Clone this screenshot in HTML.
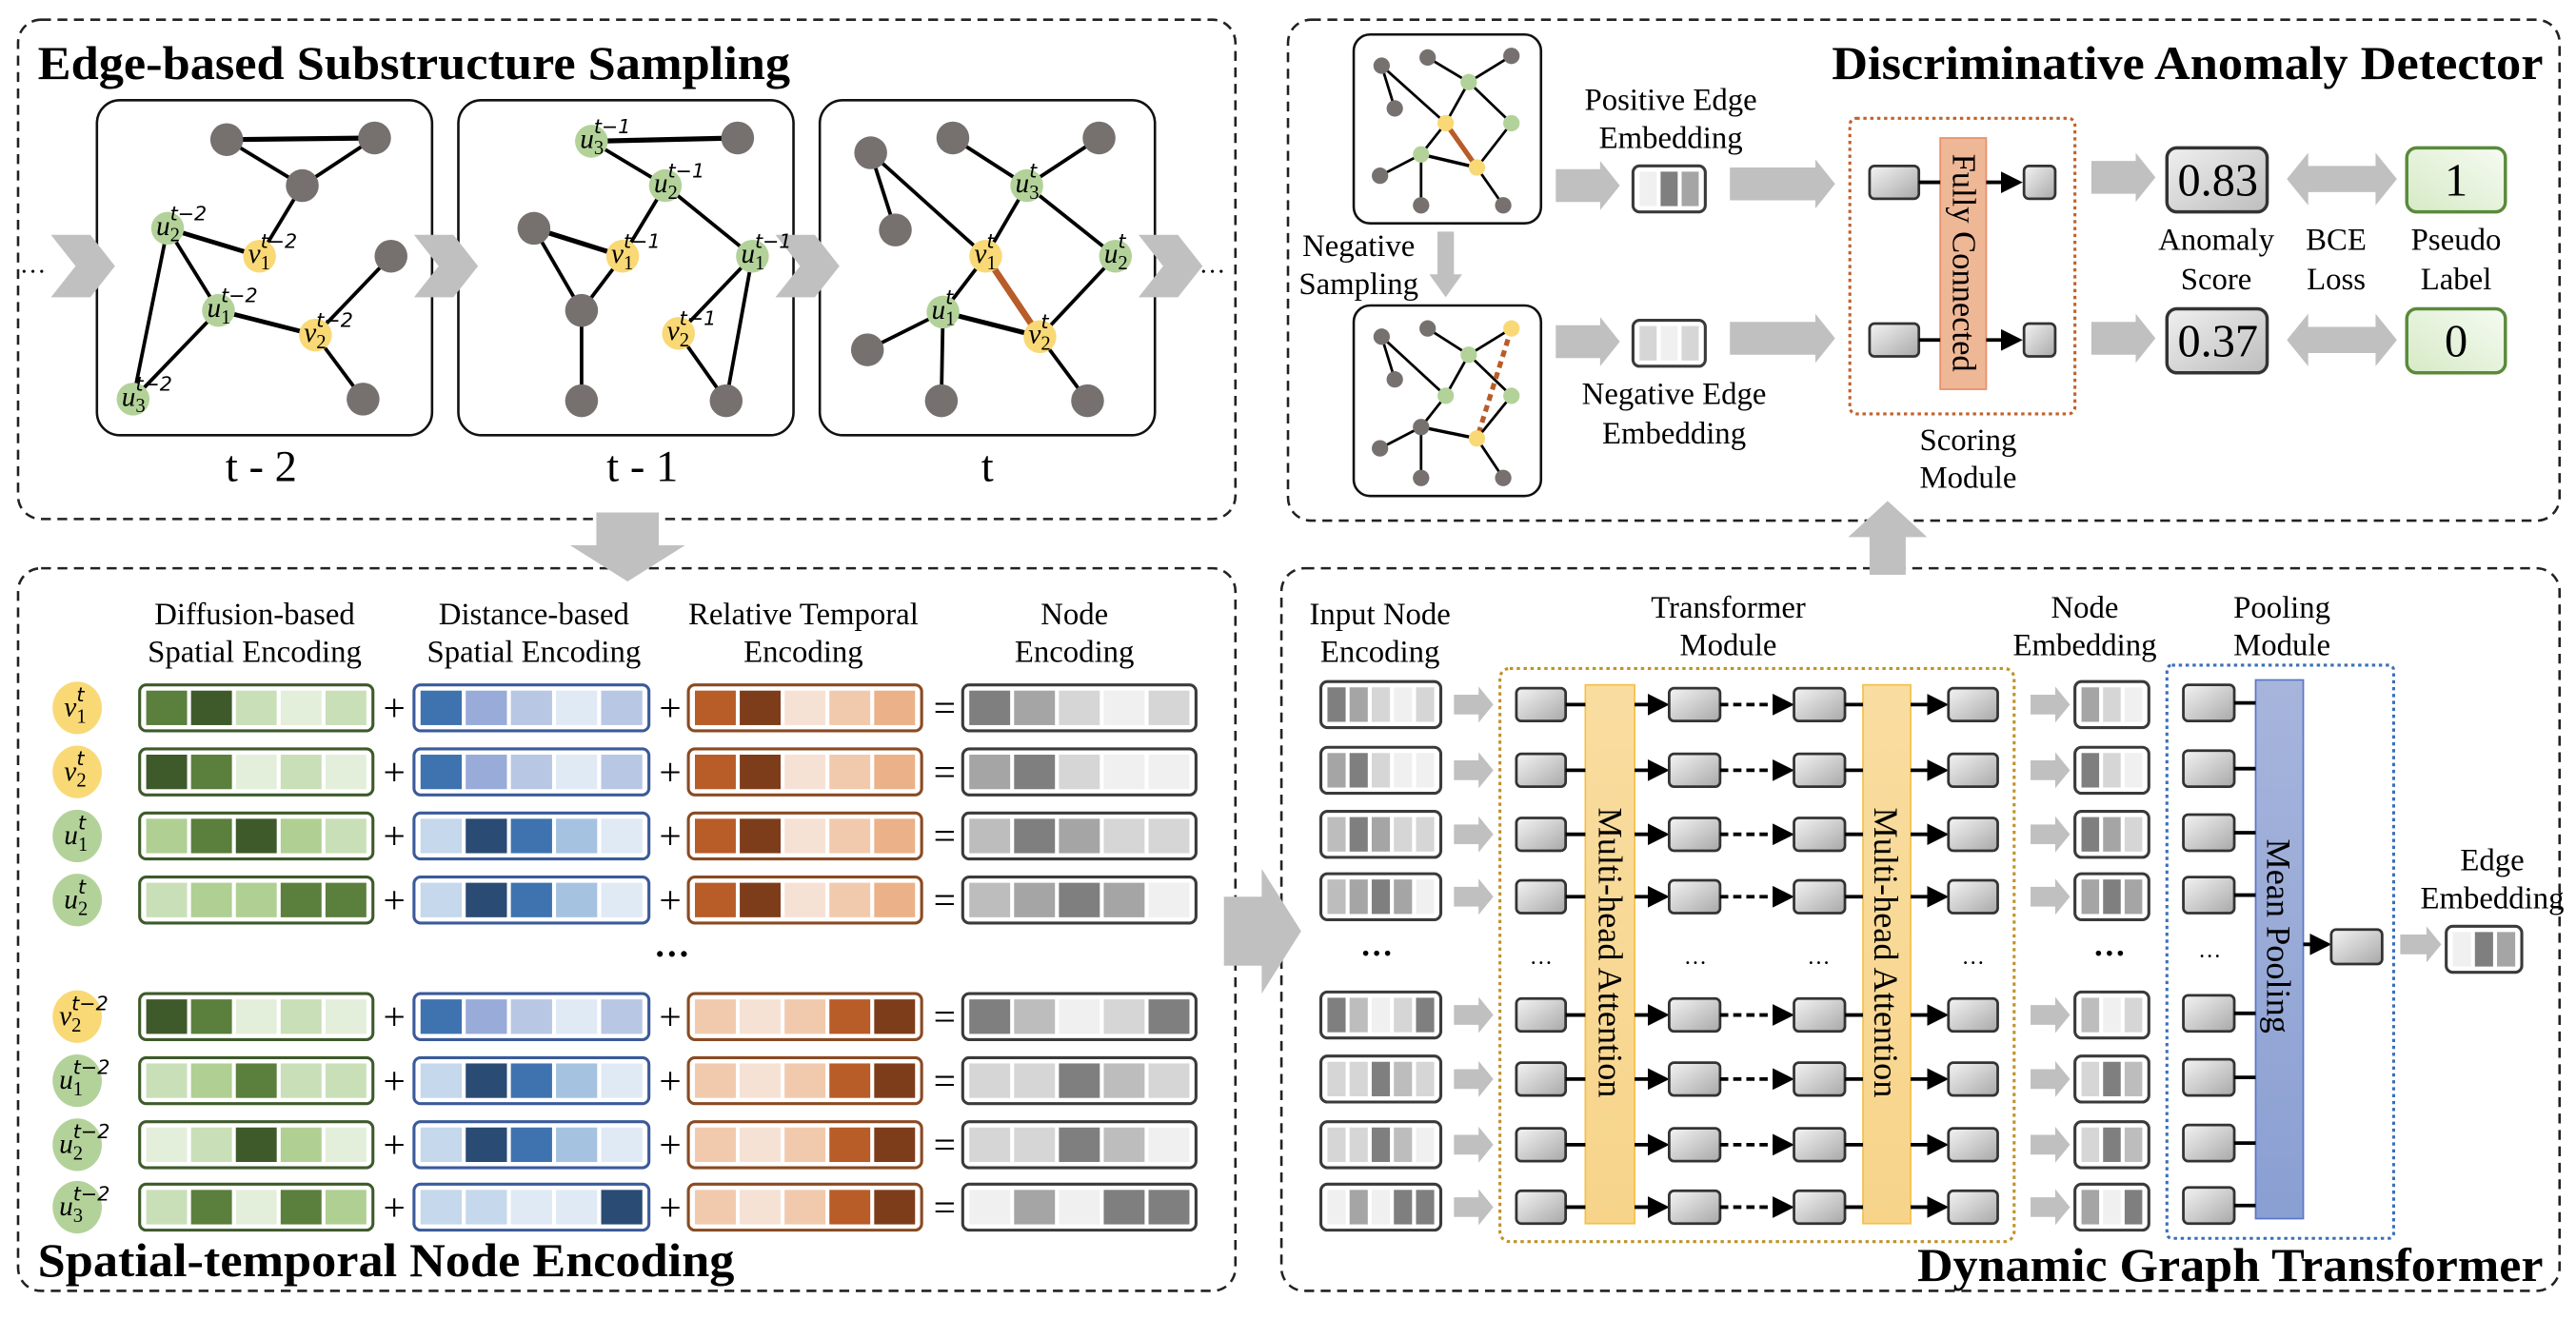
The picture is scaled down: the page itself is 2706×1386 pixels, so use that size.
<!DOCTYPE html>
<html><head><meta charset="utf-8">
<style>
html,body{margin:0;padding:0;background:#fff;}
svg{display:block;}
text{font-family:"Liberation Serif","DejaVu Serif",serif;fill:#000;}
.h{font-size:19px;text-anchor:middle;}
.t{font-size:29px;font-weight:bold;}
.m{font-size:17px;font-style:italic;}
.ms{font-size:12px;font-style:normal;}
.mp{font-size:12px;font-family:"DejaVu Sans","Liberation Sans",sans-serif;}
</style></head>
<body>
<svg id="s" width="2706" height="1386" viewBox="0 0 1568 803.1" xmlns="http://www.w3.org/2000/svg">
<defs>
<linearGradient id="gb" x1="0" y1="0" x2="1" y2="1"><stop offset="0" stop-color="#f4f4f4"/><stop offset="1" stop-color="#a8a8a8"/></linearGradient>
<linearGradient id="gs" x1="0" y1="0" x2="1" y2="1"><stop offset="0" stop-color="#f0f0f0"/><stop offset="1" stop-color="#bdbdbd"/></linearGradient>
<linearGradient id="gg" x1="0" y1="1" x2="1" y2="0"><stop offset="0" stop-color="#d6eac6"/><stop offset="1" stop-color="#f6fbf2"/></linearGradient>
<linearGradient id="ga" x1="0" y1="0" x2="0" y2="1"><stop offset="0" stop-color="#f9dda0"/><stop offset="1" stop-color="#f7d48a"/></linearGradient>
<linearGradient id="gp" x1="0" y1="0" x2="0" y2="1"><stop offset="0" stop-color="#a7b5dc"/><stop offset="1" stop-color="#8a9fd2"/></linearGradient>
<marker id="ah" markerWidth="6" markerHeight="6" refX="5" refY="3" orient="auto" markerUnits="strokeWidth"><path d="M0,0 L6,3 L0,6 z" fill="#000"/></marker>
</defs>
<g id="shapes"></g>
<g id="txt">
<text class="t" x="23" y="48" textLength="458" lengthAdjust="spacingAndGlyphs">Edge-based Substructure Sampling</text>
<text class="t" x="1115" y="48" textLength="433" lengthAdjust="spacingAndGlyphs">Discriminative Anomaly Detector</text>
<text class="t" x="23" y="777" textLength="424" lengthAdjust="spacingAndGlyphs">Spatial-temporal Node Encoding</text>
<text class="t" x="1167" y="780" textLength="381" lengthAdjust="spacingAndGlyphs">Dynamic Graph Transformer</text>
<text x="159" y="293" style="font-size:27px;text-anchor:middle">t - 2</text>
<text x="391" y="293" style="font-size:27px;text-anchor:middle">t - 1</text>
<text x="601" y="293" style="font-size:27px;text-anchor:middle">t</text>
<text x="20" y="166" style="font-size:16px;text-anchor:middle">…</text>
<text x="738" y="166" style="font-size:16px;text-anchor:middle">…</text>
<!-- graph labels t-2 -->
<text class="m" x="95" y="143">u<tspan class="ms" dy="4">2</tspan><tspan class="mp" dx="-6" dy="-13">t−2</tspan></text>
<text class="m" x="151" y="160">v<tspan class="ms" dy="4">1</tspan><tspan class="mp" dx="-6" dy="-13">t−2</tspan></text>
<text class="m" x="126" y="193">u<tspan class="ms" dy="4">1</tspan><tspan class="mp" dx="-6" dy="-13">t−2</tspan></text>
<text class="m" x="185" y="208">v<tspan class="ms" dy="4">2</tspan><tspan class="mp" dx="-6" dy="-13">t−2</tspan></text>
<text class="m" x="74" y="247">u<tspan class="ms" dy="4">3</tspan><tspan class="mp" dx="-6" dy="-13">t−2</tspan></text>
<text class="m" x="353" y="90">u<tspan class="ms" dy="4">3</tspan><tspan class="mp" dx="-6" dy="-13">t−1</tspan></text>
<text class="m" x="398" y="117">u<tspan class="ms" dy="4">2</tspan><tspan class="mp" dx="-6" dy="-13">t−1</tspan></text>
<text class="m" x="372" y="160">v<tspan class="ms" dy="4">1</tspan><tspan class="mp" dx="-6" dy="-13">t−1</tspan></text>
<text class="m" x="451" y="160">u<tspan class="ms" dy="4">1</tspan><tspan class="mp" dx="-6" dy="-13">t−1</tspan></text>
<text class="m" x="406" y="207">v<tspan class="ms" dy="4">2</tspan><tspan class="mp" dx="-6" dy="-13">t−1</tspan></text>
<text class="m" x="618" y="117">u<tspan class="ms" dy="4">3</tspan><tspan class="mp" dx="-6" dy="-13">t</tspan></text>
<text class="m" x="593" y="160">v<tspan class="ms" dy="4">1</tspan><tspan class="mp" dx="-6" dy="-13">t</tspan></text>
<text class="m" x="672" y="160">u<tspan class="ms" dy="4">2</tspan><tspan class="mp" dx="-6" dy="-13">t</tspan></text>
<text class="m" x="567" y="194">u<tspan class="ms" dy="4">1</tspan><tspan class="mp" dx="-6" dy="-13">t</tspan></text>
<text class="m" x="626" y="209">v<tspan class="ms" dy="4">2</tspan><tspan class="mp" dx="-6" dy="-13">t</tspan></text>
<text class="h" x="155" y="380">Diffusion-based</text><text class="h" x="155" y="403">Spatial Encoding</text>
<text class="h" x="325" y="380">Distance-based</text><text class="h" x="325" y="403">Spatial Encoding</text>
<text class="h" x="489" y="380">Relative Temporal</text><text class="h" x="489" y="403">Encoding</text>
<text class="h" x="654" y="380">Node</text><text class="h" x="654" y="403">Encoding</text>
<text class="m" x="39" y="436">v<tspan class="ms" dy="4">1</tspan><tspan class="mp" dx="-6" dy="-13">t</tspan></text>
<text class="m" x="39" y="475">v<tspan class="ms" dy="4">2</tspan><tspan class="mp" dx="-6" dy="-13">t</tspan></text>
<text class="m" x="39" y="514">u<tspan class="ms" dy="4">1</tspan><tspan class="mp" dx="-6" dy="-13">t</tspan></text>
<text class="m" x="39" y="553">u<tspan class="ms" dy="4">2</tspan><tspan class="mp" dx="-6" dy="-13">t</tspan></text>
<text class="m" x="36" y="624">v<tspan class="ms" dy="4">2</tspan><tspan class="mp" dx="-6" dy="-13">t−2</tspan></text>
<text class="m" x="36" y="663">u<tspan class="ms" dy="4">1</tspan><tspan class="mp" dx="-6" dy="-13">t−2</tspan></text>
<text class="m" x="36" y="702">u<tspan class="ms" dy="4">2</tspan><tspan class="mp" dx="-6" dy="-13">t−2</tspan></text>
<text class="m" x="36" y="740">u<tspan class="ms" dy="4">3</tspan><tspan class="mp" dx="-6" dy="-13">t−2</tspan></text>
<text x="240" y="439" style="font-size:24px;text-anchor:middle">+</text>
<text x="240" y="478" style="font-size:24px;text-anchor:middle">+</text>
<text x="240" y="517" style="font-size:24px;text-anchor:middle">+</text>
<text x="240" y="556" style="font-size:24px;text-anchor:middle">+</text>
<text x="240" y="627" style="font-size:24px;text-anchor:middle">+</text>
<text x="240" y="666" style="font-size:24px;text-anchor:middle">+</text>
<text x="240" y="705" style="font-size:24px;text-anchor:middle">+</text>
<text x="240" y="743" style="font-size:24px;text-anchor:middle">+</text>
<text x="408" y="439" style="font-size:24px;text-anchor:middle">+</text>
<text x="408" y="478" style="font-size:24px;text-anchor:middle">+</text>
<text x="408" y="517" style="font-size:24px;text-anchor:middle">+</text>
<text x="408" y="556" style="font-size:24px;text-anchor:middle">+</text>
<text x="408" y="627" style="font-size:24px;text-anchor:middle">+</text>
<text x="408" y="666" style="font-size:24px;text-anchor:middle">+</text>
<text x="408" y="705" style="font-size:24px;text-anchor:middle">+</text>
<text x="408" y="743" style="font-size:24px;text-anchor:middle">+</text>
<text x="575" y="439" style="font-size:24px;text-anchor:middle">=</text>
<text x="575" y="478" style="font-size:24px;text-anchor:middle">=</text>
<text x="575" y="517" style="font-size:24px;text-anchor:middle">=</text>
<text x="575" y="556" style="font-size:24px;text-anchor:middle">=</text>
<text x="575" y="627" style="font-size:24px;text-anchor:middle">=</text>
<text x="575" y="666" style="font-size:24px;text-anchor:middle">=</text>
<text x="575" y="705" style="font-size:24px;text-anchor:middle">=</text>
<text x="575" y="743" style="font-size:24px;text-anchor:middle">=</text>
<text x="409" y="588" style="font-size:22px;font-weight:bold;text-anchor:middle">···</text>
<text class="h" x="1017" y="67">Positive Edge</text><text class="h" x="1017" y="90">Embedding</text>
<text class="h" x="1019" y="246">Negative Edge</text><text class="h" x="1019" y="270">Embedding</text>
<text class="h" x="827" y="156">Negative</text><text class="h" x="827" y="179">Sampling</text>
<text class="h" x="1198" y="274">Scoring</text><text class="h" x="1198" y="297">Module</text>
<text class="h" x="1349" y="152">Anomaly</text><text class="h" x="1349" y="176">Score</text>
<text class="h" x="1422" y="152">BCE</text><text class="h" x="1422" y="176">Loss</text>
<text class="h" x="1495" y="152">Pseudo</text><text class="h" x="1495" y="176">Label</text>
<text x="1350" y="119" style="font-size:28px;text-anchor:middle">0.83</text>
<text x="1350" y="217" style="font-size:28px;text-anchor:middle">0.37</text>
<text x="1495" y="119" style="font-size:28px;text-anchor:middle">1</text>
<text x="1495" y="217" style="font-size:28px;text-anchor:middle">0</text>
<text x="1195" y="160" transform="rotate(90 1195 160)" style="font-size:20px;text-anchor:middle;dominant-baseline:central">Fully Connected</text>
<text class="h" x="840" y="380">Input Node</text><text class="h" x="840" y="403">Encoding</text>
<text class="h" x="1052" y="376">Transformer</text><text class="h" x="1052" y="399">Module</text>
<text class="h" x="1269" y="376">Node</text><text class="h" x="1269" y="399">Embedding</text>
<text class="h" x="1389" y="376">Pooling</text><text class="h" x="1389" y="399">Module</text>
<text class="h" x="1517" y="530">Edge</text><text class="h" x="1517" y="553">Embedding</text>
<text x="980" y="580" transform="rotate(90 980 580)" style="font-size:21px;text-anchor:middle;dominant-baseline:central">Multi-head Attention</text>
<text x="1148" y="580" transform="rotate(90 1148 580)" style="font-size:21px;text-anchor:middle;dominant-baseline:central">Multi-head Attention</text>
<text x="1387" y="570" transform="rotate(90 1387 570)" style="font-size:21px;text-anchor:middle;dominant-baseline:central">Mean Pooling</text>
<text x="838" y="587" style="font-size:20px;font-weight:bold;text-anchor:middle">···</text>
<text x="1284" y="587" style="font-size:20px;font-weight:bold;text-anchor:middle">···</text>
<text x="938" y="587" style="font-size:14px;text-anchor:middle">…</text>
<text x="1032" y="587" style="font-size:14px;text-anchor:middle">…</text>
<text x="1107" y="587" style="font-size:14px;text-anchor:middle">…</text>
<text x="1201" y="587" style="font-size:14px;text-anchor:middle">…</text>
<text x="1345" y="583" style="font-size:14px;text-anchor:middle">…</text>
</g>
</svg>
<script>
(function(){
var S=[];
function R(x,y,w,h,f,s,sw,rx,extra){S.push('<rect x="'+x+'" y="'+y+'" width="'+w+'" height="'+h+'" fill="'+f+'" stroke="'+(s||'none')+'" stroke-width="'+(sw||0)+'" rx="'+(rx||0)+'" '+(extra||'')+'/>');}
function L(x1,y1,x2,y2,c,w,extra){S.push('<line x1="'+x1+'" y1="'+y1+'" x2="'+x2+'" y2="'+y2+'" stroke="'+c+'" stroke-width="'+w+'" '+(extra||'')+'/>');}
function P(pts,f){S.push('<polygon points="'+pts.map(function(p){return p[0]+','+p[1]}).join(' ')+'" fill="'+f+'"/>');}
var GA='#c0c0c0';
function harrow(x1,y,x2,th,hh,hl){P([[x1,y-th/2],[x2-hl,y-th/2],[x2-hl,y-hh/2],[x2,y],[x2-hl,y+hh/2],[x2-hl,y+th/2],[x1,y+th/2]],GA);}
function varrow(x,y1,y2,th,hh,hl){var d=y2>y1?1:-1;P([[x-th/2,y1],[x-th/2,y2-d*hl],[x-hh/2,y2-d*hl],[x,y2],[x+hh/2,y2-d*hl],[x+th/2,y2-d*hl],[x+th/2,y1]],GA);}
function dharrow(x1,y,x2,th,hh,hl){P([[x1,y],[x1+hl,y-hh/2],[x1+hl,y-th/2],[x2-hl,y-th/2],[x2-hl,y-hh/2],[x2,y],[x2-hl,y+hh/2],[x2-hl,y+th/2],[x1+hl,y+th/2],[x1+hl,y+hh/2]],GA);}
function chev(x0){P([[x0,143],[x0+24,143],[x0+39,162],[x0+24,181],[x0,181],[x0+15,162]],GA);}
var DASH='stroke-dasharray="6,4"';
R(11,12,741,304,'none','#222',1.5,14,DASH);
R(784,12,774,305,'none','#222',1.5,14,DASH);
R(11,346,741,440,'none','#222',1.5,14,DASH);
R(780,346,778,440,'none','#222',1.5,14,DASH);
R(59,61,204,204,'#fff','#111',1.5,14);R(279,61,204,204,'#fff','#111',1.5,14);R(499,61,204,204,'#fff','#111',1.5,14);
chev(31);chev(252);chev(472);chev(693);
varrow(382,312,354,38,70,22);
var GR='#76716f',GN='#b3d29a',YL='#f9d976';
function graph(nodes,edges,r){
 edges.forEach(function(e){var a=nodes[e[0]],b=nodes[e[1]];L(a[0],a[1],b[0],b[1],e[2]||'#000',e[3]||2.2,e[4]||'');});
 for(var k in nodes){var n=nodes[k];S.push('<circle cx="'+n[0]+'" cy="'+n[1]+'" r="'+r+'" fill="'+n[2]+'"/>');}
}
graph({A:[138,85,GR],B:[228,84,GR],C:[184,113,GR],u2:[102,139,GN],v1:[158,156,YL],u1:[133,189,GN],v2:[192,204,YL],D:[238,156,GR],E:[221,243,GR],u3:[81,243,GN]},
 [['A','B','#000',3],['A','C'],['B','C'],['C','v1'],['u2','v1','#000',2.8],['u2','u1'],['u2','u3'],['u1','u3'],['u1','v2','#000',2.8],['v2','D'],['v2','E']],10);
graph({u3:[360,86,GN],F:[449,84,GR],u2:[405,113,GN],G:[325,139,GR],v1:[379,156,YL],u1:[458,156,GN],H:[354,189,GR],v2:[413,203,YL],I:[354,244,GR],J:[442,244,GR]},
 [['u3','F','#000',3],['u3','u2'],['u2','v1'],['u2','u1'],['G','v1','#000',3],['G','H'],['v1','H'],['H','I'],['u1','v2'],['u1','J'],['v2','J']],10);
graph({K:[530,93,GR],L:[580,84,GR],M:[669,84,GR],N:[545,140,GR],u3:[625,113,GN],v1:[600,156,YL],u2:[679,156,GN],u1:[574,190,GN],v2:[633,205,YL],O:[528,213,GR],P:[573,244,GR],Q:[662,244,GR]},
 [['K','N'],['K','v1'],['L','u3'],['M','u3'],['u3','v1'],['u3','u2'],['v1','u1'],['v1','v2','#b85c28',4],['u1','v2','#000',3],['u1','O'],['u1','P'],['u2','v2'],['v2','Q']],10);
R(824,21,114,115,'#fff','#111',1.5,10);R(824,186,114,116,'#fff','#111',1.5,10);
graph({a:[841,40,GR],b:[869,35,GR],c:[920,34,GR],g1:[894,50,GN],d:[849,66,GR],y1:[880,75,YL],g2:[920,75,GN],g3:[865,94,GN],y2:[899,102,YL],e:[840,107,GR],f:[865,125,GR],h:[915,125,GR]},
 [['a','d'],['a','y1'],['b','g1'],['c','g1'],['g1','y1'],['g1','g2'],['y1','g3'],['y1','y2','#b85c28',3],['g3','y2','#000',2],['g3','e'],['g3','f'],['g2','y2'],['y2','h']].map(function(e){if(!e[3]){e[2]='#000';e[3]=1.6;}return e;}),5);
graph({a:[841,205,GR],b:[869,200,GR],c:[920,200,YL],g1:[894,216,GN],d:[849,231,GR],y1:[880,241,GN],g2:[920,241,GN],g3:[865,260,GR],y2:[899,267,YL],e:[840,273,GR],f:[865,291,GR],h:[915,291,GR]},
 [['a','d'],['a','y1'],['b','g1'],['c','g1'],['g1','y1'],['g1','g2'],['y1','g3'],['c','y2','#b85c28',3,'stroke-dasharray="4,3"'],['g3','y2','#000',2],['g3','e'],['g3','f'],['g2','y2'],['y2','h']].map(function(e){if(!e[3]){e[2]='#000';e[3]=1.6;}return e;}),5);
varrow(880,141,181,10,20,14);
harrow(947,113,986,20,30,12);harrow(1053,112,1117,20,30,12);
harrow(947,208,986,20,30,12);harrow(1053,206,1117,20,30,12);
var G={1:'#7f7f7f',2:'#a5a5a5',3:'#bdbdbd',4:'#d6d6d6',5:'#f0f0f0'};
function bar(x,y,w,h,stroke,cols,sw){R(x,y,w,h,'#fff',stroke,sw||1.8,4);var n=cols.length,pad=4,g=2.4,cw=(w-2*pad-(n-1)*g)/n;for(var i=0;i<n;i++)R(x+pad+i*(cw+g),y+3.5,cw,h-7,cols[i]);}
function gbar(x,y,w,h,codes,sw){bar(x,y,w,h,'#3a3a3a',codes.split('').map(function(c){return G[c]}),sw);}
gbar(994,101,44,28,'512');gbar(994,195,44,28,'454');
R(1126,72,137,180,'none','#c0622a',1.8,4,'stroke-dasharray="2,2.2"');
R(1181,84,28,153,'#eeb796','#e8906a',1);
function sbox(x,y,w,h){R(x,y,w,h,'url(#gb)','#333',1.6,3);}
[111,207].forEach(function(y){sbox(1138,y-10,30,20);sbox(1232,y-10,19,20);L(1168,y,1181,y,'#000',2.2);L(1209,y,1229,y,'#000',2.2,'marker-end="url(#ah)"');});
harrow(1273,108,1312,20,30,12);harrow(1273,206,1312,20,30,12);
R(1319,90,61,39,'url(#gs)','#333',2,6);R(1319,188,61,39,'url(#gs)','#333',2,6);
dharrow(1392,109,1459,16,32,13);dharrow(1392,207,1459,16,32,13);
R(1465,90,60,39,'url(#gg)','#5a8a3a',2,6);R(1465,188,60,39,'url(#gg)','#5a8a3a',2,6);
varrow(1149,350,305,22,48,22);
var GRN={a:'#3f5a2a',b:'#5b7f3c',c:'#b0cf93',d:'#c9dfb8',e:'#e4efdb'};
var BLU={D:'#2a4b74',M:'#3f73b0',P:'#98abd9',L:'#b8c7e4',V:'#e0eaf5',S:'#a5c3e1',C:'#c5d8ec'};
var ORA={A:'#b85c28',B:'#7e3d1a',c:'#f6e2d5',d:'#f1caad',e:'#ebb189'};
var ys=[431,470,509,548,619,658,697,735];
var gr=['baded','abede','cbacd','dccbb','abede','dcbdd','edace','dbebc'];
var bl=['MPLVL','MPLVL','CDMSV','CDMSV','MPLVL','CDMSV','CDMSV','CCVVD'];
var orr=['ABcde','ABcde','ABcde','ABcde','dcdAB','dcdAB','dcdAB','dcdAB'];
var gy=['12454','21455','31244','32125','13541','44134','44135','52511'];
var cc=[YL,YL,GN,GN,YL,GN,GN,GN];
ys.forEach(function(y,i){
 S.push('<ellipse cx="47" cy="'+y+'" rx="15" ry="16" fill="'+cc[i]+'"/>');
 bar(85,y-14,142,28,'#3e5a2a',gr[i].split('').map(function(c){return GRN[c]}));
 bar(252,y-14,143,28,'#3b5a9a',bl[i].split('').map(function(c){return BLU[c]}));
 bar(419,y-14,142,28,'#8a4a22',orr[i].split('').map(function(c){return ORA[c]}));
 gbar(586,y-14,142,28,gy[i]);
});
harrow(745,567,792,42,76,24);
var ys2=[429,469,508,546,618,657,697,735];
var ne=['245','145','124','212','354','413','413','251'];
R(913,407,313,349,'none','#c0922a',1.8,6,'stroke-dasharray="2,2.2"');
R(1319,405,138,349,'none','#3a70b8',1.8,3,'stroke-dasharray="2,2.2"');
R(965,417,30,328,'url(#ga)','#f5c04a',1);
R(1134,417,29,328,'url(#ga)','#f5c04a',1);
R(1373,414,29,328,'url(#gp)','#5a78c8',1);
ys2.forEach(function(y,i){
 gbar(804,y-14,73,28,gy[i]);
 harrow(885,y,909,12,22,9);
 sbox(923,y-10,30,20);L(953,y,965,y,'#000',2.2);
 L(995,y,1014,y,'#000',2.2,'marker-end="url(#ah)"');
 sbox(1016,y-10,31,20);
 L(1047,y,1090,y,'#000',2.2,'stroke-dasharray="5,3" marker-end="url(#ah)"');
 sbox(1092,y-10,31,20);L(1123,y,1134,y,'#000',2.2);
 L(1163,y,1184,y,'#000',2.2,'marker-end="url(#ah)"');
 sbox(1186,y-10,30,20);
 harrow(1236,y,1260,12,22,9);
 gbar(1263,y-14,45,28,ne[i]);
 sbox(1329,y-12,31,22);L(1360,y-1,1373,y-1,'#000',2.2);
});
L(1402,575,1417,575,'#000',2.2,'marker-end="url(#ah)"');
sbox(1419,566,31,21);
harrow(1461,575,1486,12,22,9);
gbar(1489,564,46,28,'512');
document.getElementById('shapes').innerHTML=S.join('');
})();
</script>
</body></html>
